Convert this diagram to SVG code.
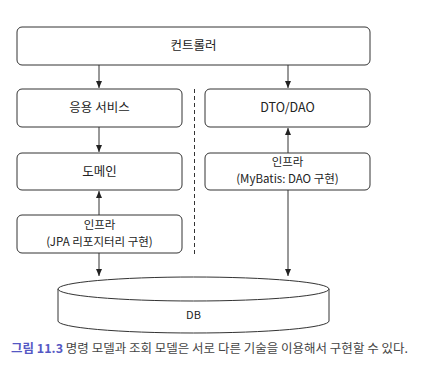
<svg xmlns="http://www.w3.org/2000/svg" width="434" height="383" viewBox="0 0 434 383">
<style>
.box{fill:#fff;stroke:#333;stroke-width:1}
.t{font-family:"Noto Sans CJK KR","Noto Sans",sans-serif;font-size:12.5px;fill:#222;text-anchor:middle}
.t2{font-size:11.5px}
.ln{stroke:#333;stroke-width:1;fill:none}
.cap{font-family:"Noto Sans CJK KR","Noto Sans",sans-serif;font-size:12px;fill:#444}
</style>
<defs>
<marker id="ah" markerWidth="8" markerHeight="8" refX="7" refY="4" orient="auto" markerUnits="userSpaceOnUse">
<path d="M0,1 L7,4 L0,7 Z" fill="#222"/>
</marker>
</defs>
<rect width="434" height="383" fill="#fff"/>
<g id="controller"><rect class="box" x="17" y="27" width="353" height="38" rx="5"/><text class="t" x="193.5" y="50">컨트롤러</text></g>
<g id="appservice"><rect class="box" x="17" y="89" width="165" height="38" rx="5"/><text class="t" x="99.5" y="112">응용 서비스</text></g>
<g id="dtodao"><rect class="box" x="205" y="89" width="165" height="38" rx="5"/><text class="t" x="287.5" y="112">DTO/DAO</text></g>
<g id="domain"><rect class="box" x="17" y="153" width="165" height="37" rx="5"/><text class="t" x="99.5" y="176">도메인</text></g>
<g id="infra-mybatis"><rect class="box" x="205" y="153" width="165" height="37" rx="5"/><text class="t t2" x="287.5" y="166">인프라</text><text class="t t2" x="287.5" y="183">(MyBatis: DAO 구현)</text></g>
<g id="infra-jpa"><rect class="box" x="17" y="215" width="165" height="38" rx="5"/><text class="t t2" x="99.5" y="229">인프라</text><text class="t t2" x="99.5" y="246">(JPA 리포지터리 구현)</text></g>
<g id="db">
<path class="box" d="M58,289 L58,321 A135.5,12 0 0 0 329,321 L329,289"/>
<ellipse class="box" cx="193.5" cy="289" rx="135.5" ry="12"/>
<text class="t" x="193.5" y="319" style="font-size:11px">DB</text>
</g>
<g id="connectors">
<line class="ln" x1="99" y1="65" x2="99" y2="88" marker-end="url(#ah)"/>
<line class="ln" x1="288" y1="65" x2="288" y2="88" marker-end="url(#ah)"/>
<line class="ln" x1="99" y1="127" x2="99" y2="152" marker-end="url(#ah)"/>
<line class="ln" x1="99" y1="215" x2="99" y2="191" marker-end="url(#ah)"/>
<line class="ln" x1="99" y1="253" x2="99" y2="276" marker-end="url(#ah)"/>
<line class="ln" x1="288" y1="153" x2="288" y2="128" marker-end="url(#ah)"/>
<line class="ln" x1="288" y1="190" x2="288" y2="276" marker-end="url(#ah)"/>
<line class="ln" x1="194.5" y1="89" x2="194.5" y2="254" stroke-dasharray="4,3"/>
</g>
<text class="cap" x="11" y="353" textLength="397" lengthAdjust="spacingAndGlyphs"><tspan fill="#5558c4" font-weight="bold">그림 11.3</tspan> 명령 모델과 조회 모델은 서로 다른 기술을 이용해서 구현할 수 있다.</text>
</svg>
